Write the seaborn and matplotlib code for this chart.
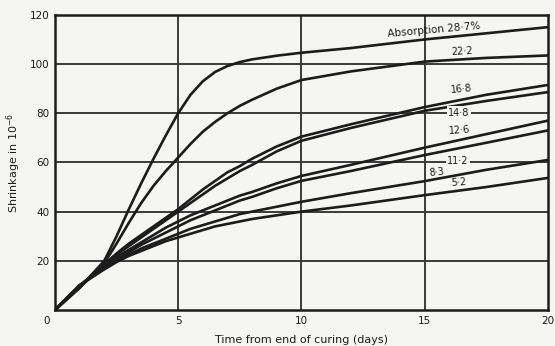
import matplotlib
matplotlib.use("Agg")
import matplotlib.pyplot as plt
import numpy as np
import pandas as pd
import seaborn as sns

# Shrinkage (10^-6) against time from end of curing (days), one curve per absorption (%)
days = [0, 1, 2, 2.5, 3, 3.5, 4, 4.5, 5, 5.5, 6, 6.5, 7, 7.5, 8, 9, 10, 12, 15, 17.5, 20]

abs_287 = [0, 9, 20, 30, 41, 51.5, 61.5, 71, 80, 87.5, 93, 96.8, 99.2, 100.8, 101.9, 103.4, 104.6, 106.5, 110, 112.5, 115]
abs_222 = [0, 9, 19, 27, 35.5, 43.5, 50.5, 56.5, 62, 67.5, 72.5, 76.5, 80, 83, 85.5, 90, 93.5, 97, 101, 102.5, 103.5]
abs_168 = [0, 9.5, 18.5, 23, 27, 30.5, 34, 37.5, 41, 45, 49, 52.5, 56, 58.5, 61.5, 66.5, 70.5, 75.5, 82.5, 87.5, 91.5]
abs_148 = [0, 9.5, 18, 22.5, 26, 29.5, 33, 36.5, 40, 43.5, 47, 50.5, 53.5, 56.5, 59, 64.5, 68.8, 74, 81, 85, 88.6]
abs_126 = [0, 10, 18, 21.5, 24.5, 27.5, 30.5, 33.5, 36, 38.5, 40.5, 42.5, 44.5, 46.5, 48, 51.5, 54.5, 59, 66, 71.5, 77]
abs_112 = [0, 10, 17.5, 20.5, 23.5, 26.5, 29, 31.5, 34, 36.5, 38.5, 40.5, 42.5, 44.5, 46, 49.5, 52.5, 56.5, 63, 68, 73]
abs_83 = [0, 10, 17, 20, 22.5, 25, 27, 29, 31, 33, 34.5, 36, 37.5, 39, 40, 42, 44, 47.5, 52.4, 57, 61]
abs_52 = [0, 10, 16.5, 19.5, 22, 24, 26, 28, 29.5, 31, 32.5, 34, 35, 36, 37, 38.5, 40, 42.5, 46.7, 50, 53.7]

series = {
    "28.7": abs_287, "22.2": abs_222, "16.8": abs_168, "14.8": abs_148,
    "12.6": abs_126, "11.2": abs_112, "8.3": abs_83, "5.2": abs_52,
}

x_ticks = [5, 10, 15, 20]
y_ticks = [20, 40, 60, 80, 100, 120]

frames = [pd.DataFrame({"days": days, "shrinkage": v, "absorption": k}) for k, v in series.items()]
df = pd.concat(frames, ignore_index=True)

sns.set_theme(style="white")
plt.rcParams["font.family"] = ["DejaVu Sans"]

bg = "#f5f5f3"
ink = "#1c1c1c"

fig = plt.figure(figsize=(5.55, 3.46), dpi=100, facecolor=bg)
ax = fig.add_axes([0.099, 0.104, 0.888, 0.853])
ax.set_facecolor(bg)

# grid drawn first so the curves sit on top of it
for xv in x_ticks[:-1]:
    ax.axvline(xv, color="#3a3a3a", lw=1.4, zorder=1)
for yv in y_ticks[:-1]:
    ax.axhline(yv, color="#3a3a3a", lw=1.4, zorder=1)

palette = {k: ink for k in series}
sns.lineplot(data=df, x="days", y="shrinkage", hue="absorption", palette=palette,
             linewidth=1.9, legend=False, ax=ax, zorder=3, estimator=None)
for line in ax.get_lines():
    line.set_solid_joinstyle("round")

ax.set_xlim(0, 20)
ax.set_ylim(0, 120)
ax.set_xticks(x_ticks)
ax.set_yticks(y_ticks)
ax.tick_params(axis="both", length=0, labelsize=7.5, colors=ink, pad=4)
ax.set_xticklabels([str(t) for t in x_ticks])
ax.set_yticklabels([str(t) for t in y_ticks])
for s in ax.spines.values():
    s.set_visible(True)
    s.set_color(ink)
    s.set_linewidth(1.8)

# shared origin label
ax.annotate("0", xy=(0, 0), xytext=(-6, -8), textcoords="offset points",
            ha="center", va="center", fontsize=7.5, color=ink, annotation_clip=False)

ax.set_xlabel("Time from end of curing (days)", fontsize=8, color=ink, labelpad=7)
ax.set_ylabel("Shrinkage in 10$^{-6}$", fontsize=8, color=ink, labelpad=5)

# curve labels
label_kw = dict(fontsize=7, color=ink, ha="center", va="center", zorder=5)
ax.text(15.4, 114, "Absorption 28·7%", rotation=5, fontsize=7.5, color=ink,
        ha="center", va="center", zorder=5)
ax.text(16.5, 105, "22·2", rotation=3, **label_kw)
ax.text(16.5, 90, "16·8", rotation=5, **label_kw)
ax.text(16.4, 80.3, "14·8", bbox=dict(facecolor=bg, edgecolor="none", pad=1.0), **label_kw)
ax.text(16.4, 73, "12·6", rotation=4, **label_kw)
ax.text(16.35, 60.5, "11·2", bbox=dict(facecolor=bg, edgecolor="none", pad=1.0), **label_kw)
ax.text(15.5, 56, "8·3", rotation=5, **label_kw)
ax.text(16.4, 52, "5·2", rotation=4, **label_kw)

fig.savefig("out.png", dpi=100, facecolor=bg)
